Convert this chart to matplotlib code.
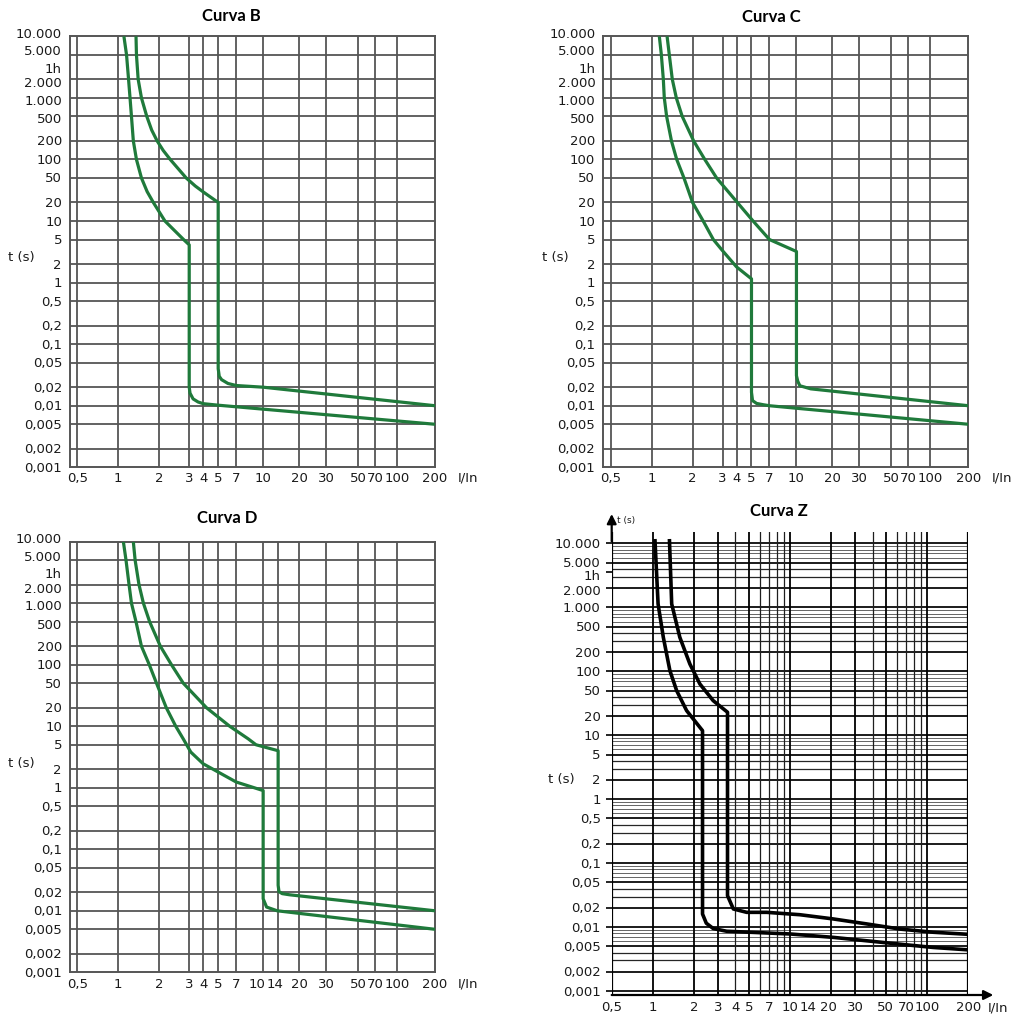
import numpy as np
import matplotlib
matplotlib.use("Agg")
import matplotlib.pyplot as plt
from matplotlib.ticker import NullLocator

# ------------------------------------------------------------------ data
Y_TICK_VALUES = [10000, 5000, 3600, 2000, 1000, 500, 200, 100, 50, 20, 10, 5, 2, 1,
                 0.5, 0.2, 0.1, 0.05, 0.02, 0.01, 0.005, 0.002, 0.001]
Y_TICK_LABELS = ['10.000', '5.000', '1h', '2.000', '1.000', '500', '200', '100', '50',
                 '20', '10', '5', '2', '1', '0,5', '0,2', '0,1', '0,05', '0,02', '0,01',
                 '0,005', '0,002', '0,001']

X_TICKS_BC = [0.5, 1, 2, 3, 4, 5, 7, 10, 20, 30, 50, 70, 100, 200]
X_LABELS_BC = ['0,5', '1', '2', '3', '4', '5', '7', '10', '20', '30', '50', '70', '100', '200']
X_TICKS_DZ = [0.5, 1, 2, 3, 4, 5, 7, 10, 14, 20, 30, 50, 70, 100, 200]
X_LABELS_DZ = ['0,5', '1', '2', '3', '4', '5', '7', '10', '14', '20', '30', '50', '70', '100', '200']

# Curva B
B_LOW_X = [1.10, 1.15, 1.19, 1.22, 1.25, 1.29, 1.36, 1.48, 1.63, 1.81, 2.16, 2.78, 3.0,
           3.0, 3.05, 3.25, 3.6, 4.0, 5.0, 200]
B_LOW_T = [10000, 5000, 2000, 1000, 500, 200, 100, 50, 30, 20, 10, 5, 4.1,
           0.02, 0.016, 0.0129, 0.0115, 0.0108, 0.0102, 0.005]
B_UP_X = [1.35, 1.36, 1.40, 1.48, 1.62, 1.76, 1.93, 2.11, 2.32, 2.88, 3.4, 4.0, 5.0, 5.0,
          5.1, 5.33, 6.0, 7.0, 10, 200]
B_UP_T = [10000, 5000, 2000, 1000, 500, 300, 200, 140, 100, 50, 37, 29.7, 20, 0.04,
          0.03, 0.0265, 0.023, 0.0213, 0.0200, 0.010]

# Curva C
C_LOW_X = [1.14, 1.18, 1.22, 1.24, 1.29, 1.40, 1.53, 1.73, 2.0, 2.31, 2.65, 3.0, 4.0, 5.0,
           5.0, 5.1, 5.5, 6.2, 7.0, 200]
C_LOW_T = [10000, 5000, 2000, 1000, 500, 200, 100, 50, 20, 10, 5, 3.3, 1.8, 1.15,
           0.0165, 0.0121, 0.0109, 0.0104, 0.0100, 0.005]
C_UP_X = [1.30, 1.35, 1.42, 1.52, 1.68, 2.03, 2.36, 2.77, 4.05, 5.15, 7.0, 10, 10,
          10.3, 10.8, 13.8, 200]
C_UP_T = [10000, 5000, 2000, 1000, 500, 200, 100, 50, 20, 10, 5, 3.2, 0.0307,
          0.025, 0.0211, 0.0188, 0.010]

# Curva D
D_LOW_X = [1.09, 1.14, 1.20, 1.25, 1.35, 1.48, 1.69, 1.91, 2.2, 2.5, 2.77, 3.1, 4.0,
           5.0, 7.0, 10.0, 10.0, 10.8, 13.7, 200]
D_LOW_T = [10000, 5000, 2000, 1000, 500, 200, 100, 50, 20, 10, 6.2, 3.8, 2.45,
           1.8, 1.24, 0.9, 0.0157, 0.0115, 0.0100, 0.005]
D_UP_X = [1.29, 1.33, 1.42, 1.53, 1.70, 2.03, 2.36, 2.77, 4.2, 6.2, 8.2, 9.1, 14, 14, 14.2,
          15.0, 17.0, 200]
D_UP_T = [10000, 5000, 2000, 1000, 500, 200, 100, 50, 20, 10, 6.25, 5, 4.0, 0.026, 0.0205,
          0.019, 0.0182, 0.010]

# Curva Z
Z_LOW_X = [1.035, 1.09, 1.19, 1.33, 1.49, 1.76, 2.3, 2.3, 2.45, 2.75, 3.45, 5.1, 10,
           20.7, 36.3, 63.5, 111, 200]
Z_LOW_T = [11000, 1130, 341, 102, 49.7, 24.3, 11.8, 0.016, 0.0115, 0.0095, 0.0086, 0.0083,
           0.0078, 0.0069, 0.0061, 0.0054, 0.0048, 0.0044]
Z_UP_X = [1.32, 1.37, 1.57, 1.86, 2.2, 2.75, 3.5, 3.5, 3.86, 4.83, 6.76, 11.8, 20.7, 36.3,
          63.5, 111, 200]
Z_UP_T = [11000, 1132, 341, 130, 63.4, 34.8, 22.9, 0.031, 0.0192, 0.017, 0.017, 0.0156,
          0.0134, 0.0112, 0.0093, 0.0083, 0.0077]

# ------------------------------------------------------------------ scale of the B/C/D paper
SCALE_KNOTS = np.log10([0.5, 1, 2, 3, 4, 5, 7, 10, 14, 20, 30, 50, 70, 100, 200])
SCALE_POS = np.array([0, 41, 82, 112, 126, 141, 159, 186, 201, 222, 249, 281, 298, 320, 358], float)
_S0 = (SCALE_POS[1] - SCALE_POS[0]) / (SCALE_KNOTS[1] - SCALE_KNOTS[0])
_S1 = (SCALE_POS[-1] - SCALE_POS[-2]) / (SCALE_KNOTS[-1] - SCALE_KNOTS[-2])


def fwd(x):
    x = np.asarray(x, float)
    with np.errstate(divide='ignore', invalid='ignore'):
        lx = np.log10(np.where(x > 0, x, np.nan))
    p = np.interp(lx, SCALE_KNOTS, SCALE_POS)
    p = np.where(lx < SCALE_KNOTS[0], SCALE_POS[0] + (lx - SCALE_KNOTS[0]) * _S0, p)
    p = np.where(lx > SCALE_KNOTS[-1], SCALE_POS[-1] + (lx - SCALE_KNOTS[-1]) * _S1, p)
    return p


def inv(p):
    p = np.asarray(p, float)
    lx = np.interp(p, SCALE_POS, SCALE_KNOTS)
    lx = np.where(p < SCALE_POS[0], SCALE_KNOTS[0] + (p - SCALE_POS[0]) / _S0, lx)
    lx = np.where(p > SCALE_POS[-1], SCALE_KNOTS[-1] + (p - SCALE_POS[-1]) / _S1, lx)
    return 10 ** lx


# ------------------------------------------------------------------ figure
W, H = 1016, 1020
plt.rcParams['font.family'] = ['DejaVu Sans']
fig = plt.figure(figsize=(W / 100, H / 100), dpi=100)
fig.patch.set_facecolor('white')

GRID = '#555555'
GREEN = '#1f7a3b'
TXT = '#1a1a1a'
FS = 9.5


def frect(x0, y0, x1, y1):
    return [x0 / W, 1 - y1 / H, (x1 - x0) / W, (y1 - y0) / H]


def ftext(x, y, s, **kw):
    fig.text(x / W, 1 - y / H, s, **kw)


LABEL_SHIFT_STD = {'10.000': -3, '5.000': -4, '1h': 4.5, '2.000': 3.5, '1.000': 2.4, '500': 2.4}
LABEL_SHIFT_Z = {'1h': 4, '2.000': 2.5}
XLABEL_SHIFT_D = {'10': -6, '14': -3}
XLABEL_SHIFT_Z = {'14': -2, '20': -3}


def y_labels(ax, pad, shifts):
    for v, lab in zip(Y_TICK_VALUES, Y_TICK_LABELS):
        ax.annotate(lab, xy=(0, v), xycoords=('axes fraction', 'data'),
                    xytext=(-pad, -shifts.get(lab, 0)), textcoords='offset pixels',
                    ha='right', va='center', fontsize=FS, color=TXT, annotation_clip=False)


def x_labels(ax, ticks, labels, drop, shifts):
    for v, lab in zip(ticks, labels):
        ax.annotate(lab, xy=(v, 0), xycoords=('data', 'axes fraction'),
                    xytext=(shifts.get(lab, 0), -drop), textcoords='offset pixels',
                    ha='center', va='center', fontsize=FS, color=TXT, annotation_clip=False)


def std_panel(rect, low, up, xticks, xlabels, xshift, drop):
    ax = fig.add_axes(frect(*rect))
    ax.set_xscale('function', functions=(fwd, inv))
    ax.set_yscale('log')
    ax.set_xlim(0.4418, 200)
    ax.set_ylim(0.001, 10000)
    for v in xticks[:-1]:
        ax.axvline(v, color=GRID, lw=1.3, zorder=1)
    for v, lab in zip(Y_TICK_VALUES, Y_TICK_LABELS):
        if lab != '1h' and 0.001 < v < 10000:
            ax.axhline(v, color=GRID, lw=1.3, zorder=1)
    for sp in ax.spines.values():
        sp.set_color(GRID)
        sp.set_linewidth(1.4)
    for xs, ts in (low, up):
        ax.plot(xs, ts, color=GREEN, lw=2.3, zorder=3, solid_joinstyle='round',
                solid_capstyle='butt')
    ax.xaxis.set_major_locator(NullLocator())
    ax.xaxis.set_minor_locator(NullLocator())
    ax.yaxis.set_major_locator(NullLocator())
    ax.yaxis.set_minor_locator(NullLocator())
    y_labels(ax, 8, LABEL_SHIFT_STD)
    x_labels(ax, xticks, xlabels, drop, xshift)
    return ax


# Curva B
std_panel((70, 37.3, 435, 468.3), (B_LOW_X, B_LOW_T), (B_UP_X, B_UP_T), X_TICKS_BC, X_LABELS_BC, {}, 10)
ftext(231, 16, 'Curva B', ha='center', va='center', fontsize=12, fontweight='bold', family='Lato')
ftext(8, 257, 't (s)', ha='left', va='center', fontsize=FS, color=TXT)
ftext(458, 478, 'I/In', ha='left', va='center', fontsize=FS, color=TXT)

# Curva C
std_panel((603.3, 37.3, 968.3, 468.3), (C_LOW_X, C_LOW_T), (C_UP_X, C_UP_T), X_TICKS_BC, X_LABELS_BC, {}, 10)
ftext(771.7, 16.7, 'Curva C', ha='center', va='center', fontsize=12, fontweight='bold', family='Lato')
ftext(541.7, 257, 't (s)', ha='left', va='center', fontsize=FS, color=TXT)
ftext(992, 478, 'I/In', ha='left', va='center', fontsize=FS, color=TXT)

# Curva D
std_panel((70, 542.7, 435, 973.3), (D_LOW_X, D_LOW_T), (D_UP_X, D_UP_T), X_TICKS_DZ, X_LABELS_DZ,
          XLABEL_SHIFT_D, 11)
ftext(227.5, 518.3, 'Curva D', ha='center', va='center', fontsize=12, fontweight='bold', family='Lato')
ftext(8, 763, 't (s)', ha='left', va='center', fontsize=FS, color=TXT)
ftext(458, 984, 'I/In', ha='left', va='center', fontsize=FS, color=TXT)

# Curva Z (log-log paper)
axz = fig.add_axes(frect(611.7, 533, 968.3, 996))
axz.set_xscale('log')
axz.set_yscale('log')
axz.set_xlim(0.5, 200)
axz.set_ylim(0.000866, 15100)
for k in range(-3, 5):
    for m in range(1, 10):
        v = m * 10.0 ** k
        if v < 0.00095 or v > 12000:
            continue
        if m in (1, 2, 5):
            axz.axhline(v, color='black', lw=1.25, zorder=1)
        elif m in (3, 4):
            axz.axhline(v, color='#262626', lw=0.9, zorder=1)
        else:
            axz.axhline(v, color='#5a5a5a', lw=0.65, zorder=1)
for k in (0, 1):
    for m in range(1, 10):
        v = m * 10.0 ** k
        if m in (1, 2, 3, 5):
            axz.axvline(v, color='black', lw=1.3, zorder=1)
        else:
            axz.axvline(v, color='#1e1e1e', lw=0.9, zorder=1)
axz.axvline(100, color='black', lw=1.3, zorder=1)
axz.axvline(200, color='black', lw=1.6, zorder=1)
axz.axvline(0.5, color='black', lw=1.6, zorder=2)
for sp in axz.spines.values():
    sp.set_visible(False)
axz.plot(Z_LOW_X, Z_LOW_T, color='black', lw=2.6, zorder=3, solid_joinstyle='round')
axz.plot(Z_UP_X, Z_UP_T, color='black', lw=2.6, zorder=3, solid_joinstyle='round')
axz.xaxis.set_major_locator(NullLocator())
axz.xaxis.set_minor_locator(NullLocator())
axz.set_yticks(Y_TICK_VALUES)
axz.set_yticklabels([''] * len(Y_TICK_VALUES))
axz.yaxis.set_minor_locator(NullLocator())
axz.tick_params(axis='y', length=4, width=1.2, color='black', direction='out')
y_labels(axz, 11, LABEL_SHIFT_Z)
x_labels(axz, X_TICKS_DZ, X_LABELS_DZ, 12, XLABEL_SHIFT_Z)
# axis arrows
axz.annotate('', xy=(0, 1 + 18 / 463), xycoords='axes fraction', xytext=(0, 0.98),
             arrowprops=dict(arrowstyle='-|>', color='black', lw=1.6, mutation_scale=14,
                             shrinkA=0, shrinkB=0), annotation_clip=False)
axz.annotate('', xy=(1 + 25 / 356.6, 0), xycoords='axes fraction', xytext=(0, 0),
             arrowprops=dict(arrowstyle='-|>', color='black', lw=1.6, mutation_scale=14,
                             shrinkA=0, shrinkB=0), annotation_clip=False)
ftext(779, 511, 'Curva Z', ha='center', va='center', fontsize=12, fontweight='bold', family='Lato')
ftext(617, 521, 't (s)', ha='left', va='center', fontsize=6.5, color=TXT)
ftext(548, 780, 't (s)', ha='left', va='center', fontsize=FS, color=TXT)
ftext(988, 1008, 'I/In', ha='left', va='center', fontsize=FS, color=TXT)

fig.savefig('out.png', dpi=100, facecolor='white')
